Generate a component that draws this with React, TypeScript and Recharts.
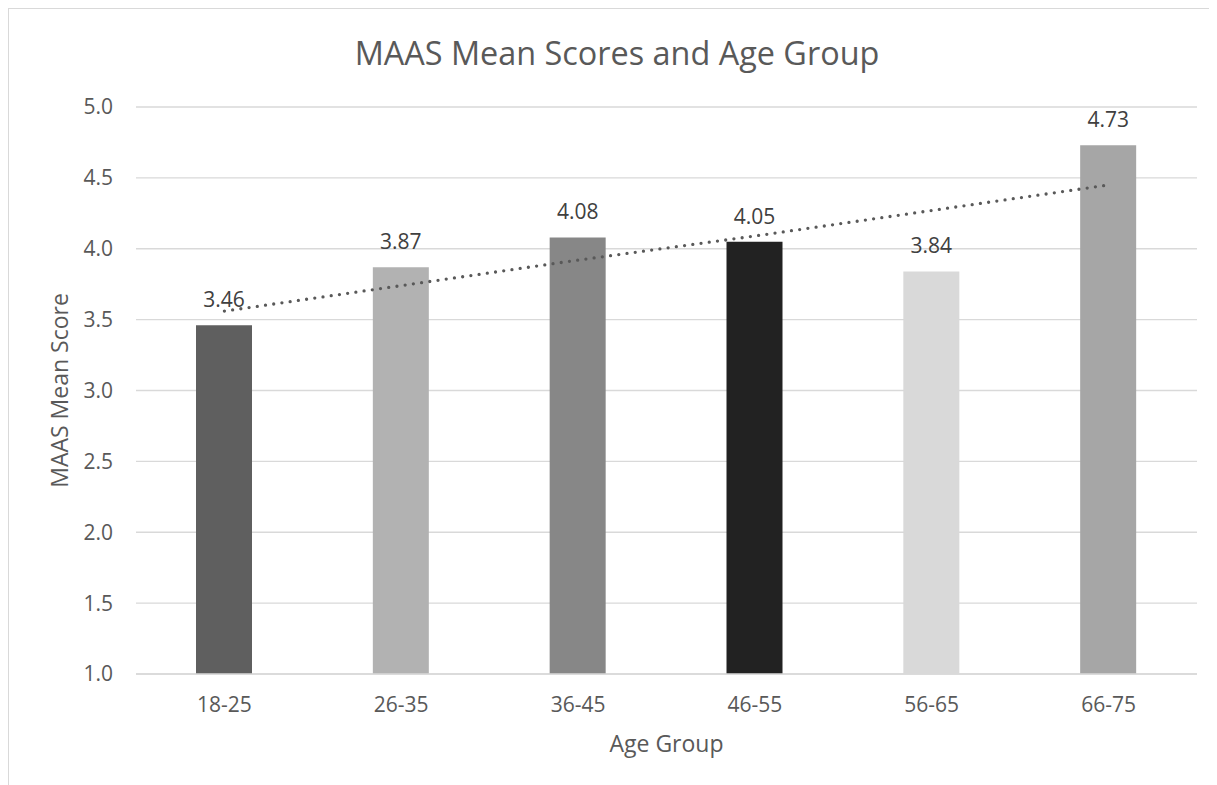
import React from 'react';
import { ComposedChart, Bar, Line, XAxis, YAxis, CartesianGrid, Cell, LabelList, Customized } from 'recharts';

const categories = ['18-25', '26-35', '36-45', '46-55', '56-65', '66-75'];
const scores = [3.46, 3.87, 4.08, 4.05, 3.84, 4.73];
const trendValues = [3.56, 3.74, 3.92, 4.09, 4.27, 4.45];
const barColors = ['#5f5f5f', '#b2b2b2', '#878787', '#222222', '#d9d9d9', '#a6a6a6'];
const yTicks = [1.0, 1.5, 2.0, 2.5, 3.0, 3.5, 4.0, 4.5, 5.0];

const title = 'MAAS Mean Scores and Age Group';
const xTitle = 'Age Group';
const yTitle = 'MAAS Mean Score';

const data = categories.map((c, i) => ({ group: c, score: scores[i], trend: trendValues[i] }));

const FONT = '"Open Sans", "Noto Sans", sans-serif';
const TEXT = '#595959';

const Titles = (props: any) => {
  const off = props.offset || { left: 128, top: 99, width: 1061, height: 567 };
  const cx = off.left + off.width / 2;
  const cy = off.top + off.height / 2;
  return (
    <g fontFamily={FONT} fill={TEXT}>
      <text x={609} y={57} textAnchor="middle" fontSize={32.4} fill={TEXT}>{title}</text>
      <text x={cx} y={744} textAnchor="middle" fontSize={23} fill={TEXT}>{xTitle}</text>
      <text x={60} y={cy} textAnchor="middle" fontSize={23} fill={TEXT} transform={`rotate(-90 60 ${cy})`}>{yTitle}</text>
    </g>
  );
};

export default function App() {
  return (
    <div
      style={{
        position: 'relative',
        width: 1209,
        height: 777,
        borderTop: '1px solid #d9d9d9',
        borderLeft: '1px solid #d9d9d9',
        boxSizing: 'border-box',
        overflow: 'hidden',
        background: '#fff',
      }}
    >
      <div style={{ position: 'absolute', left: -1, top: -1 }}>
        <ComposedChart
          width={1209}
          height={777}
          data={data}
          margin={{ top: 99, right: 20, left: 48, bottom: 51 }}
        >
          <CartesianGrid vertical={false} stroke="#d9d9d9" strokeWidth={1.3} />
          <XAxis
            dataKey="group"
            height={60}
            tickLine={false}
            axisLine={{ stroke: '#d9d9d9', strokeWidth: 1.3 }}
            tickMargin={17}
            tick={{ fill: TEXT, fontSize: 21, fontFamily: FONT }}
          />
          <YAxis
            width={80}
            domain={[1, 5]}
            ticks={yTicks}
            interval={0}
            tickFormatter={(v: number) => v.toFixed(1)}
            axisLine={false}
            tickLine={false}
            tickMargin={17}
            tick={{ fill: TEXT, fontSize: 21, fontFamily: FONT }}
          />
          <Bar dataKey="score" barSize={56} isAnimationActive={false}>
            {data.map((d, i) => (
              <Cell key={d.group} fill={barColors[i]} />
            ))}
            <LabelList
              dataKey="score"
              position="top"
              offset={18}
              formatter={(v: number) => v.toFixed(2)}
              style={{ fill: '#404040', fontSize: 21, fontFamily: FONT }}
            />
          </Bar>
          <Line
            dataKey="trend"
            type="linear"
            stroke="#595959"
            strokeWidth={3.3}
            strokeDasharray="0 8.3"
            strokeLinecap="round"
            dot={false}
            activeDot={false}
            isAnimationActive={false}
          />
          <Customized component={Titles} />
        </ComposedChart>
      </div>
    </div>
  );
}
